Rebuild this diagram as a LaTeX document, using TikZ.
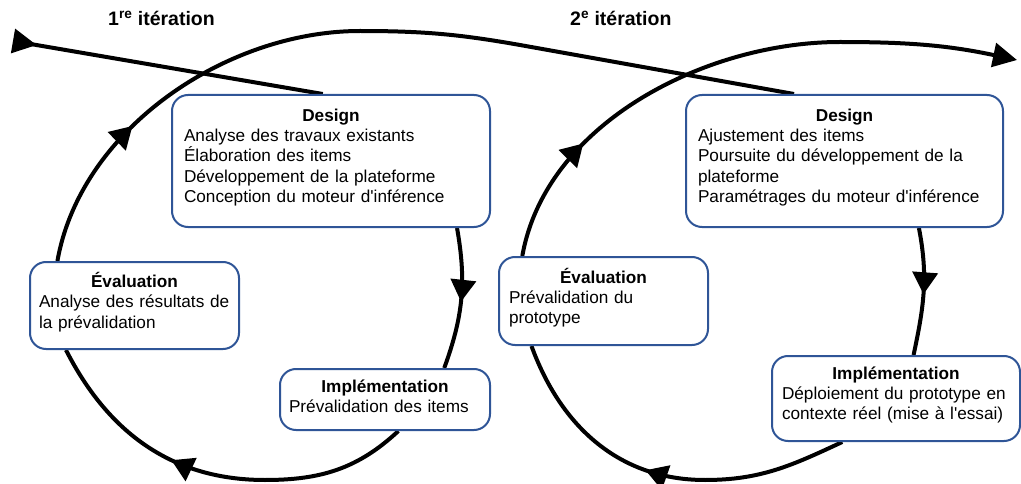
\documentclass[tikz,border=0pt]{standalone}
\usepackage{fontspec}
\setmainfont{Liberation Sans}
\usetikzlibrary{arrows.meta,decorations.markings,backgrounds}

\definecolor{cadreBleu}{RGB}{47,85,151}

\tikzset{
  etape/.style={draw=cadreBleu, line width=2pt, rounded corners=16pt, fill=white,
    align=left, inner xsep=10pt, inner ysep=0pt,
    execute at end node={\par\vspace{7pt}\hrule height 0pt}},
  titre/.style={font=\fontsize{19.5pt}{23pt}\selectfont\bfseries, inner sep=0pt},
  boucle/.style={line width=4pt},
  fleche/.style={postaction={decorate}, decoration={markings,
    mark=at position #1 with {\arrow{Triangle[length=22pt,width=25pt]}}}},
}

\begin{document}
\begin{tikzpicture}[x=1pt, y=1pt, font=\fontsize{17.2pt}{20.3pt}\selectfont]
\useasboundingbox (0,0) rectangle (1021,483);

% Titres des deux iterations
\node[titre, anchor=base west] (it1) at (108,457) {1\textsuperscript{re} itération};
\node[titre, anchor=base west] (it2) at (570,457) {2\textsuperscript{e} itération};

% Premiere iteration
\node[etape, inner xsep=12pt, text width=294pt, minimum height=132pt] (d1) at (331,322)
  {{\centering\bfseries Design\par}Analyse des travaux existants\\Élaboration des items\\Développement de la plateforme\\Conception du moteur d\textquotesingle inférence};
\node[etape, inner xsep=9pt, text width=191pt, minimum height=87pt] (e1) at (134.5,177.5)
  {{\centering\bfseries Évaluation\par}Analyse des résultats de\\la prévalidation};
\node[etape, inner xsep=9pt, text width=192pt, minimum height=61pt] (i1) at (385,83.5)
  {{\centering\bfseries Implémentation\par}Prévalidation des items};

% Deuxieme iteration
\node[etape, inner xsep=12pt, text width=293pt, minimum height=132pt] (d2) at (844.5,322)
  {{\centering\bfseries Design\par}Ajustement des items\\Poursuite du développement de la\\plateforme\\Paramétrages du moteur d\textquotesingle inférence};
\node[etape, text width=189pt, minimum height=88pt] (e2) at (603.5,182)
  {{\centering\bfseries Évaluation\par}Prévalidation du\\prototype};
\node[etape, text width=228pt, minimum height=85pt] (i2) at (896,84.5)
  {{\centering\bfseries Implémentation\par}Déploiement du prototype en\\contexte réel (mise à l\textquotesingle essai)};

% Points de passage de la spirale
\coordinate (s) at (13,442);
\coordinate (b1) at (265,3);
\coordinate (t1) at (360,452);
\coordinate (m1) at (520,438);
\coordinate (b2) at (705,3);
\coordinate (t2) at (840,441);
\coordinate (fin) at (1017,423);

\begin{scope}[on background layer]
\draw[boucle, {Triangle[reversed,length=24pt,width=24pt]}-] (s) -- (d1.97);
\draw[boucle, fleche=0.52] (d1.-28) to[out=-80, in=70] (i1.28);
\draw[boucle, fleche=0.61] (i1.-67) to[out=-137, in=0] (b1) to[out=180, in=-63] (e1.213);
\draw[boucle, fleche=0.185] (e1.150) to[out=80, in=180, looseness=0.9] (t1) to[out=0, in=170] (m1) -- (d2.127);
\draw[boucle, fleche=0.52] (d2.-42) to[out=-79, in=78] (i2.68);
\draw[boucle, fleche=0.54] (i2.-141) to[out=-155, in=0] (b2) to[out=180, in=-70] (e2.-148);
\draw[boucle, fleche=0.22, -{Triangle[length=24pt,width=24pt]}] (e2.151) to[out=80, in=180, looseness=0.9] (t2) to[out=0, in=168] (fin);
\end{scope}
\end{tikzpicture}
\end{document}
